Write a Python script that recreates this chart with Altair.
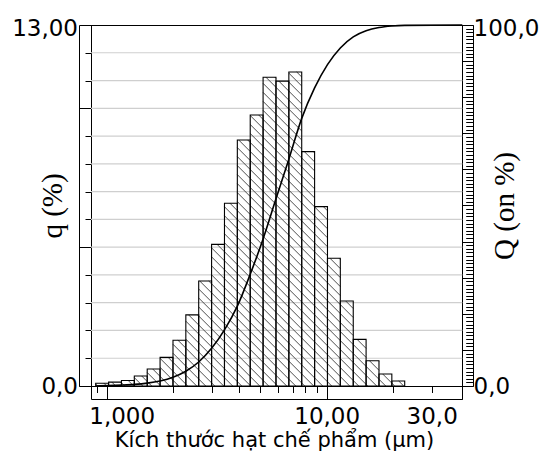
import math
import altair as alt
import pandas as pd

# ---- data ----
# bin edges of the histogram (µm)
edges = [0.891, 1.020, 1.167, 1.335, 1.528, 1.748, 2.001, 2.289, 2.619, 2.997,
         3.430, 3.924, 4.491, 5.138, 5.880, 6.728, 7.698, 8.809, 10.08, 11.53,
         13.20, 15.10, 17.28, 19.77, 22.62]
# q (%) per bin
q_vals = [0.10, 0.14, 0.20, 0.36, 0.61, 1.03, 1.65, 2.56, 3.78, 5.10, 6.58, 8.86,
          9.76, 11.12, 10.98, 11.31, 8.44, 6.46, 4.60, 3.06, 1.68, 0.91, 0.43, 0.18]
# cumulative curve Q (%) at upper bin edges
Q_x = edges + [41.33]
Q_vals = [0, 0.10, 0.24, 0.44, 0.80, 1.41, 2.44, 4.09, 6.65, 10.43, 15.53, 22.11,
          30.97, 40.73, 51.85, 62.83, 74.14, 82.58, 89.04, 93.64, 96.70, 98.38,
          99.29, 99.72, 99.90, 100.0]

# ticks / labels
x_ticks = [0.9, 1, 2, 3, 4, 5, 6, 7, 8, 9, 10, 20, 30]
x_major = [1, 10]
x_labels = {1: "1,000", 10: "10,00", 30: "30,0"}
q_ticks = list(range(0, 14))
q_major = [0, 5, 10]
q_labels = {13: "13,00", 0: "0,0"}
Q_ticks = list(range(0, 101))
Q_labels = {100: "100,0", 0: "0,0"}
grid_vals = list(range(1, 13))

x_title = "Kích thước hạt chế phẩm (µm)"
q_title = "q (%)"
Q_title = "Q (on %)"

# ---- scales / layout ----
W, H = 394, 361
x_lo, x_hi = 0.8484, 41.33
q_lo = -13 * 13 / 361.0      # frame extends 13 px below q = 0
Q_lo = -100 * 13 / 361.0
x_range = [12, 383.3]

x_scale = alt.Scale(type="log", domain=[x_lo, x_hi], range=x_range, nice=False)
q_scale = alt.Scale(domain=[q_lo, 13], range=[374, 0], nice=False, zero=False)
Q_scale = alt.Scale(domain=[Q_lo, 100], range=[374, 0], nice=False, zero=False)


def label_expr(d):
    parts = [f"datum.value === {k} ? '{v}'" for k, v in d.items()]
    return " : ".join(parts) + " : ''"


def major_test(vals):
    return " || ".join(f"datum.value === {v}" for v in vals)


SANS = "DejaVu Sans"
SERIF = "Liberation Serif"

# ---- tables ----
df_bars = pd.DataFrame({"lo": edges[:-1], "hi": edges[1:], "q": q_vals,
                        "base": [0] * len(q_vals)})
df_Q = pd.DataFrame({"x": Q_x, "Q": Q_vals})
df_grid = pd.DataFrame({"g": grid_vals, "gx0": [x_lo] * len(grid_vals),
                        "gx1": [x_hi] * len(grid_vals)})

# hatch segments ("\\" direction) derived from the bars, in screen-proportional space
kx = (x_range[1] - x_range[0]) / (math.log10(x_hi) - math.log10(x_lo))
ky = 374 / (13 - q_lo)
step = 9.0
rows = []
for L, R, h in zip(edges[:-1], edges[1:], q_vals):
    xl, xr, yt = kx * math.log10(L), kx * math.log10(R), ky * h
    for k in range(math.ceil(xl / step), math.floor((xr + yt) / step) + 1):
        c = k * step
        xs = max(xl, c - yt)
        xe = min(xr, c)
        if xe - xs > 0.4:
            rows.append({"hx1": 10 ** (xs / kx), "hx2": 10 ** (xe / kx),
                         "hy1": (c - xs) / ky, "hy2": (c - xe) / ky})
df_hatch = pd.DataFrame(rows)

# ---- axes ----
x_axis = alt.Axis(
    orient="bottom", offset=0, domain=False, grid=False, values=x_ticks,
    tickSize=13, tickColor="black", tickWidth=1,
    tickDash={"condition": {"test": major_test(x_major), "value": [13, 0]}, "value": [6.5, 20]},
    labelExpr=label_expr(x_labels), labelFont=SANS, labelFontSize=23, labelColor="black",
    labelBaseline="top", labelPadding=6.5, labelFlush=False, labelAlign="center",
    labelOffset={"condition": {"test": "datum.value === 1", "value": 15}, "value": 0},
    labelOverlap=False,
    title=x_title, titleFont=SANS, titleFontSize=21, titleFontWeight="normal",
    titleColor="black", titleX=195, titleY=60, titleBaseline="alphabetic",
    titleAlign="center", titleAnchor="middle",
)
x_axis_frame = alt.Axis(orient="bottom", offset=13, domain=True, domainColor="black",
                        domainWidth=1, ticks=False, labels=False, grid=False, title=None)

q_axis = alt.Axis(
    orient="left", offset=-12, domain=True, domainColor="black", domainWidth=1,
    grid=False, values=q_ticks, tickSize=12, tickColor="black", tickWidth=1,
    tickDash={"condition": {"test": major_test(q_major), "value": [12, 0]}, "value": [6, 20]},
    labelExpr=label_expr(q_labels), labelFont=SANS, labelFontSize=23, labelColor="black",
    labelPadding=1.5, labelBaseline="middle", labelOverlap=False,
    labelOffset={"condition": {"test": "datum.value === 13", "value": 3}, "value": 0},
    title=q_title, titleFont=SERIF, titleFontSize=29, titleFontWeight="normal",
    titleColor="black", titleAngle=270, titleX=-39, titleY=180.5,
    titleBaseline="middle", titleAlign="center",
)
Q_axis = alt.Axis(
    orient="right", offset=-11, domain=True, domainColor="black", domainWidth=1,
    grid=False, values=Q_ticks, tickSize=11, tickColor="black", tickWidth=1,
    tickDash={"condition": {"test": "datum.value % 10 === 0", "value": [11, 0]},
              "value": [0, 3.7, 7.3, 10]},
    labelExpr=label_expr(Q_labels), labelFont=SANS, labelFontSize=23, labelColor="black",
    labelPadding=0, labelBaseline="middle", labelOverlap=False,
    labelOffset={"condition": {"test": "datum.value === 100", "value": 3}, "value": 0},
    title=Q_title, titleFont=SERIF, titleFontSize=29, titleFontWeight="normal",
    titleColor="black", titleAngle=270, titleX=42.7, titleY=180.5,
    titleBaseline="middle", titleAlign="center",
)

# ---- layers ----
grid = alt.Chart(df_grid).mark_rule(color="#cfcfcf", strokeWidth=1.2).encode(
    x=alt.X("gx0:Q", scale=x_scale, axis=None),
    x2="gx1:Q",
    y=alt.Y("g:Q", scale=q_scale, axis=None),
)

hatch = alt.Chart(df_hatch).mark_rule(color="#3a3a3a", strokeWidth=0.9).encode(
    x=alt.X("hx1:Q", scale=x_scale, axis=x_axis_frame),
    x2="hx2:Q",
    y=alt.Y("hy1:Q", scale=q_scale, axis=None),
    y2="hy2:Q",
)

bars = alt.Chart(df_bars).mark_rect(fillOpacity=0, stroke="black", strokeWidth=1.1).encode(
    x=alt.X("lo:Q", scale=x_scale, axis=x_axis),
    x2="hi:Q",
    y=alt.Y("q:Q", scale=q_scale, axis=q_axis),
    y2="base:Q",
)

curve = alt.Chart(df_Q).mark_line(color="black", strokeWidth=1.6, interpolate="monotone").encode(
    x=alt.X("x:Q", scale=x_scale, axis=None),
    y=alt.Y("Q:Q", scale=Q_scale, axis=Q_axis),
)

chart = (
    alt.layer(grid, hatch, bars, curve)
    .resolve_scale(y="independent")
    .resolve_axis(x="independent", y="independent")
    .properties(
        width=W, height=H,
        autosize=alt.AutoSizeParams(type="none"),
        padding={"left": 71, "top": 17, "right": 66, "bottom": 65},
        background="white",
    )
    .configure_view(stroke="black", strokeWidth=1)
)

chart.save("out.html", embed_options={"renderer": "svg", "actions": False})
